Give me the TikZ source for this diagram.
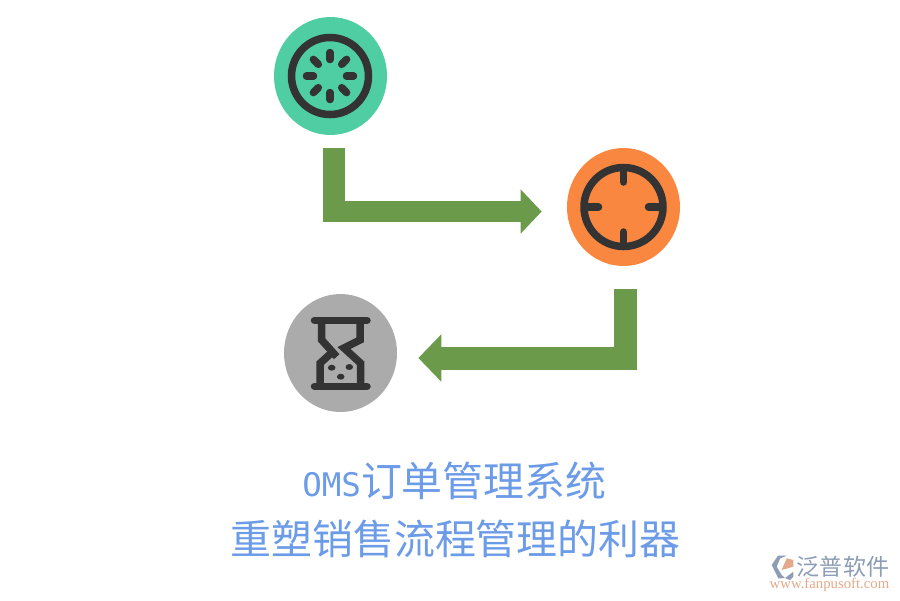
\documentclass[tikz,border=0pt]{standalone}
\usepackage{fontspec}
\usetikzlibrary{shapes.geometric,arrows.meta,positioning,calc}
\newfontfamily\cjk{Noto Sans CJK SC}
\newfontfamily\omsfont{DejaVu Sans Mono}
\newfontfamily\urlfont{Liberation Serif}
\definecolor{dialgreen}{HTML}{4FCDA3}
\definecolor{targetorange}{HTML}{F98740}
\definecolor{glassgray}{HTML}{ABABAB}
\definecolor{icondark}{HTML}{333333}
\definecolor{arrowgreen}{HTML}{6A9A4A}
\definecolor{titleblue}{HTML}{6C9BE8}
\definecolor{logoblue}{HTML}{8C9DB5}
\definecolor{logoorange}{HTML}{E2A98A}

\begin{document}
\begin{tikzpicture}
  [x=0.02cm,y=-0.02cm,
  badge/.style={
    ellipse,
    minimum width=2.26cm,
    minimum height=2.36cm,
    inner sep=0pt,
    fill=#1
    },
  iconline/.style={
    draw=icondark,
    line width=0.15cm,
    line cap=round
    },
  bigarrow/.style n args={3}{
    draw=arrowgreen,
    line width=#1,
    -{Triangle[length=#2,width=#3,fill=arrowgreen]}
    },
  titletext/.style={
    text=titleblue,
    inner sep=0pt,
    font=\cjk\fontsize{23.3}{28}\selectfont
    }
  ]
  \useasboundingbox (0,0) rectangle (900,600);

  \node [badge=dialgreen] (dial) at (330.5,76) {};
  \node [badge=targetorange] (target) at (623.5,207) {};
  \node [badge=glassgray] (glass) at (340.5,353) {};

  % dial
  \draw [iconline] (dial.center) ++(-0.5,0) circle [radius=38.5];
  \foreach \a in {0,45,...,315}
    \draw [iconline] ($(dial.center)+(-0.5,0)+(\a:16.5)$) -- ($(dial.center)+(-0.5,0)+(\a:23.5)$);

  % target
  \draw [iconline] (target.center) circle [radius=39.5];
  \foreach \a in {0,90,180,270}
    \draw [iconline] ($(target.center)+(\a:25)$) -- ($(target.center)+(\a:39)$);

  % hourglass
  \draw [iconline] (314.5,320.3) -- (367,320.3);
  \draw [iconline] (314.5,386.3) -- (367,386.3);
  \draw [iconline,line cap=butt] (321.7,320.3) -- (321.7,340) -- (336.7,356.7);
  \draw [iconline,line cap=butt] (331,353.3) -- (320,363.3) -- (320,386.3);
  \draw [iconline,line cap=butt] (360,320.3) -- (360,340) -- (344,348) -- (360.7,363.3) -- (360.7,386.3);
  \fill [icondark] (331.7,367.7) ellipse [x radius=3.8,y radius=3];
  \fill [icondark] (349.3,367) ellipse [x radius=3.8,y radius=3];
  \fill [icondark] (340.7,376.7) ellipse [x radius=3.8,y radius=3];

  \coordinate (startone) at ($(dial.south)+(3.5,13)$);
  \coordinate (endone) at ($(target.west)+(-25,4.5)$);
  \coordinate (starttwo) at ($(target.south)+(2,23)$);
  \coordinate (endtwo) at ($(glass.east)+(21,5)$);
  \draw [bigarrow={0.43cm}{0.42cm}{0.86cm}] (startone) |- (endone);
  \draw [bigarrow={0.46cm}{0.46cm}{0.92cm}] (starttwo) |- (endtwo);

  \node [titletext] (titleone) at (454.5,481)
    {{\omsfont\fontsize{18.5}{28}\selectfont OMS}订单管理系统};
  \node [titletext] (titletwo) at (455.5,539) {重塑销售流程管理的利器};

  % logo
  \fill [logoblue] (771.7,565) -- (778,555.7) -- (786.7,555.7) -- (780,558.5) -- (776.7,566.7) -- (781.7,575) -- (785,578) -- (778.5,578.5) -- cycle;
  \fill [logoorange] (781.7,570) -- (786.7,558.3) -- (793.3,560) -- (793.3,566.7) -- cycle;
  \fill [logoblue] (785,578) -- (793.3,571.7) -- (793.3,576.7) -- (790,580) -- cycle;
  \node [inner sep=0pt,text=logoblue,font=\cjk\fontsize{13.1}{16}\selectfont] (logoname) at (843,567) {泛普软件};
  \node [inner sep=0pt,text=logoorange,font=\urlfont\fontsize{8.4}{10}\selectfont] (logourl) at (829.5,585) {www.fanpusoft.com};
\end{tikzpicture}
\end{document}
